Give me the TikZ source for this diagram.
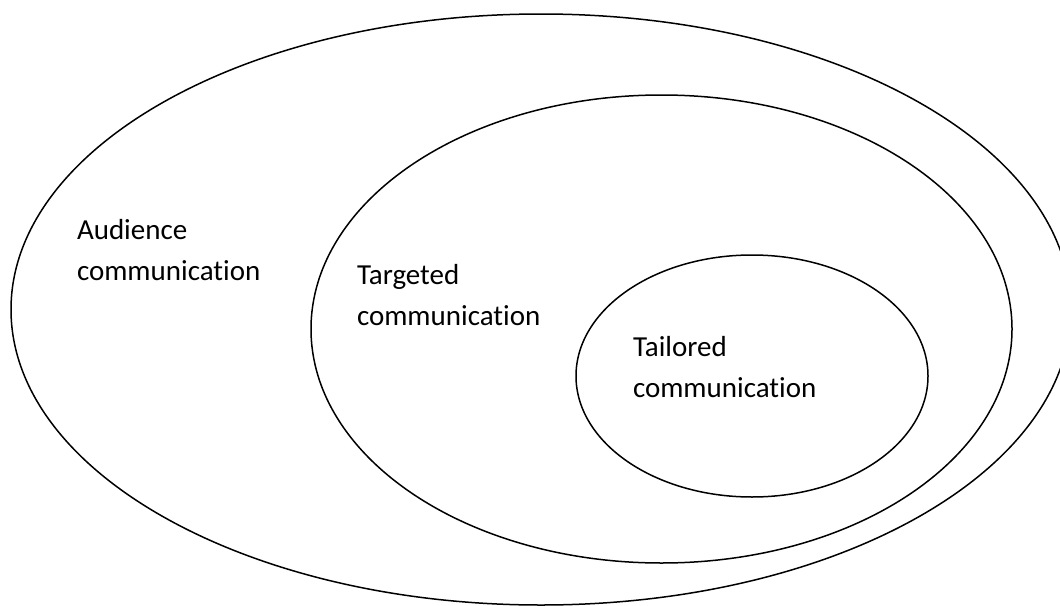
\documentclass[tikz,border=0pt]{standalone}
\usepackage{fontspec}
\setmainfont[Ligatures={NoCommon,NoRare}]{Carlito}
\begin{document}
\begin{tikzpicture}[x=1pt,y=-1pt,
  ring/.style={draw=black,line width=1.5pt},
  tag/.style={anchor=base west,inner sep=0pt,outer sep=0pt}]
  \newcommand{\twolines}[2]{\parbox[t]{8cm}{\fontsize{29}{41}\selectfont\raggedright #1\\#2}}
  \useasboundingbox (0,0) rectangle (1060,605);
  \clip (0,0) rectangle (1060,605);
  % nested circles of communication
  \draw[ring] (541,309.5) ellipse [x radius=530,y radius=295.5];
  \draw[ring] (661.5,329) ellipse [x radius=350.5,y radius=234];
  \draw[ring] (752,376) ellipse [x radius=176,y radius=121];
  % labels
  \node[tag] (audience) at (77,239) {\twolines{Audience}{communication}};
  \node[tag] (targeted) at (357,284) {\twolines{Targeted}{communication}};
  \node[tag] (tailored) at (633,356) {\twolines{Tailored}{communication}};
\end{tikzpicture}
\end{document}
